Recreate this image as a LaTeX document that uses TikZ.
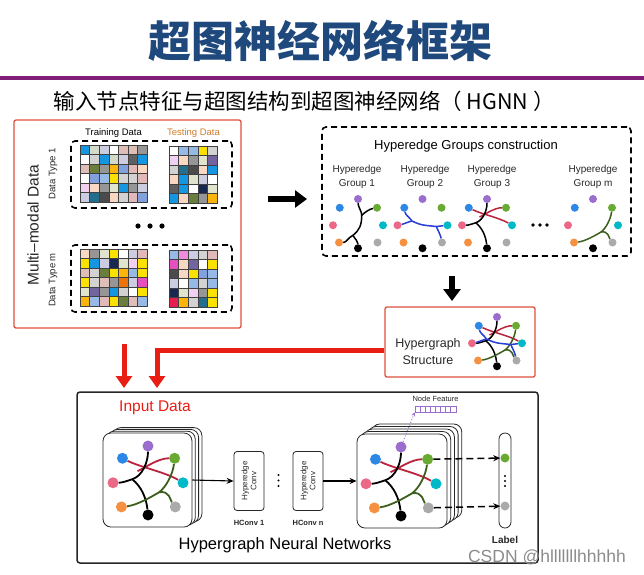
\documentclass[tikz,border=0pt]{standalone}
\usepackage{fontspec}
\setmainfont{Liberation Sans}
\newfontfamily\cjk{Noto Sans CJK SC}
\usepackage{xcolor}
\usetikzlibrary{arrows.meta, positioning}
\definecolor{titleBlue}{RGB}{31,73,125}
\definecolor{headPurple}{RGB}{128,30,120}
\definecolor{frameRed}{RGB}{222,80,60}
\definecolor{arrowRed}{RGB}{232,30,20}
\definecolor{testOrange}{RGB}{205,125,45}
\definecolor{textGray}{RGB}{40,40,40}
% vertex colours
\definecolor{vPur}{RGB}{155,110,205}
\definecolor{vBlu}{RGB}{45,135,230}
\definecolor{vGrn}{RGB}{105,170,50}
\definecolor{vPnk}{RGB}{235,105,135}
\definecolor{vCyn}{RGB}{0,185,200}
\definecolor{vOrg}{RGB}{245,145,65}
\definecolor{vGry}{RGB}{170,170,170}
% hyperedge colours
\definecolor{eRed}{RGB}{185,35,60}
\definecolor{eBlu}{RGB}{40,60,215}
\definecolor{eGrn}{RGB}{60,95,30}
% data cell colours
\definecolor{gBlu}{RGB}{20,150,225}
\definecolor{gSag}{RGB}{212,218,200}
\definecolor{gLav}{RGB}{205,205,225}
\definecolor{gWht}{RGB}{255,255,255}
\definecolor{gRos}{RGB}{222,190,182}
\definecolor{gGry}{RGB}{150,150,150}
\definecolor{gDgy}{RGB}{95,95,95}
\definecolor{gOlv}{RGB}{105,125,60}
\definecolor{gAmb}{RGB}{250,180,10}
\definecolor{gCrn}{RGB}{130,160,220}
\definecolor{gPnk}{RGB}{225,185,185}
\definecolor{gLbl}{RGB}{150,185,230}
\definecolor{gYel}{RGB}{250,225,0}
\definecolor{gLgy}{RGB}{210,210,210}
\definecolor{gOrc}{RGB}{240,210,240}
\definecolor{gPch}{RGB}{248,215,195}
\definecolor{gPal}{RGB}{225,228,205}
\definecolor{gTea}{RGB}{35,110,140}
\definecolor{gChr}{RGB}{75,75,75}
\definecolor{gNav}{RGB}{25,40,80}
\definecolor{gPur}{RGB}{115,100,160}
\definecolor{gOrg}{RGB}{235,115,10}
\definecolor{gMag}{RGB}{230,80,190}
\definecolor{gCrm}{RGB}{230,30,80}
\definecolor{gMpk}{RGB}{240,140,220}

% a block of coloured data cells, top left at (#1,#2)
\newcommand{\cellgrid}[3]{%
  \foreach \row [count=\j from 0] in {#3} {
    \foreach \c [count=\i from 0] in \row {
      \draw[cell, fill=\c] ({#1+\i*9.6},{#2+\j*9.5}) rectangle +(9.6,9.5);
    }
  }}

% the eight vertices of a hypergraph (unit circle, y down)
\newcommand{\hgverts}[2]{%
  \node[vtx=#2, fill=vPur] (#1-pu) at (0,-1) {};
  \node[vtx=#2, fill=vBlu] (#1-bl) at (-0.73,-0.65) {};
  \node[vtx=#2, fill=vGrn] (#1-gr) at (0.76,-0.65) {};
  \node[vtx=#2, fill=vPnk] (#1-pk) at (-1,0.05) {};
  \node[vtx=#2, fill=vCyn] (#1-cy) at (1,0.05) {};
  \node[vtx=#2, fill=vOrg] (#1-or) at (-0.76,0.74) {};
  \node[vtx=#2, fill=black] (#1-bk) at (0,0.97) {};
  \node[vtx=#2, fill=vGry] (#1-gy) at (0.78,0.74) {};}
\newcommand{\hgred}[1]{%
  \coordinate (#1-jr) at (-0.3,-0.28);
  \draw[hedge, eRed] (#1-bl) .. controls +(0.5,0.25) and +(-0.5,-0.3) .. (#1-cy);
  \draw[hedge, eRed] (#1-gr) .. controls +(-0.45,0) and +(0.3,-0.15) .. (#1-jr);}
\newcommand{\hgblack}[1]{%
  \coordinate (#1-jk) at (-0.45,-0.05);
  \draw[hedge, black] (#1-pk) .. controls +(0.25,0) and +(-0.15,0.05) .. (#1-jk)
    .. controls +(0.3,-0.1) and +(0,0.45) .. (#1-pu);
  \draw[hedge, black] (#1-jk) .. controls +(0.25,0.2) and +(-0.05,-0.5) .. (#1-bk);}
\newcommand{\hggreen}[1]{%
  \coordinate (#1-jg) at (0.32,0.32);
  \draw[hedge, eGrn] (#1-or) .. controls +(0.45,-0.05) and +(-0.2,0.12) .. (#1-jg)
    .. controls +(0.2,-0.15) and +(-0.05,0.45) .. (#1-gr);
  \draw[hedge, eGrn] (#1-jg) .. controls +(0.3,-0.05) and +(-0.15,-0.2) .. (#1-gy);}
\newcommand{\hgone}[1]{%
  \coordinate (#1-ka) at (0.15,-0.35);
  \coordinate (#1-kb) at (-0.2,0.45);
  \draw[hedge, black] (#1-gr) .. controls +(-0.3,0.05) and +(0.1,-0.1) .. (#1-ka);
  \draw[hedge, black] (#1-pu) .. controls +(0,0.3) and +(0,-0.15) .. (#1-ka)
    .. controls +(0,0.4) and +(0.25,-0.2) .. (#1-kb)
    .. controls +(-0.2,0.1) and +(0.3,0) .. (#1-or);
  \draw[hedge, black] (#1-kb) .. controls +(0.1,0.2) and +(0,-0.3) .. (#1-bk);}
\newcommand{\hgtwo}[1]{%
  \coordinate (#1-ma) at (-0.42,-0.12);
  \coordinate (#1-mb) at (0.55,0.1);
  \draw[hedge, eBlu] (#1-bl) .. controls +(0.05,0.3) and +(-0.1,-0.15) .. (#1-ma)
    .. controls +(0.4,0.2) and +(-0.4,-0.05) .. (#1-mb) -- (#1-cy);
  \draw[hedge, eBlu] (#1-ma) .. controls +(-0.2,0.05) and +(0.25,-0.05) .. (#1-pk);
  \draw[hedge, eBlu] (#1-mb) .. controls +(0.1,0.2) and +(-0.05,-0.25) .. (#1-gy);}

\begin{document}
\begin{tikzpicture}[x=1pt, y=-1pt,
    font=\fontsize{10}{12}\selectfont, text=textGray,
    cell/.style={draw=black!75, line width=0.6pt},
    vtx/.style={circle, inner sep=0pt, minimum size=#1},
    hedge/.style={line width=1.5pt},
    redframe/.style={draw=frameRed, line width=1.3pt, rounded corners=2pt, inner sep=0pt},
    dashframe/.style={draw=black, line width=1.6pt, dash pattern=on 6pt off 4pt, rounded corners=4pt, inner sep=0pt},
    card/.style={draw=black!85, fill=white, line width=0.8pt, rounded corners=8pt, inner sep=0pt},
    convbox/.style={draw=black!85, line width=0.8pt, rounded corners=3pt, minimum width=59, minimum height=30, align=center, inner sep=0pt, font=\fontsize{8}{9}\selectfont},
    fatblack/.style={-{Triangle[length=12pt,width=17pt]}, line width=6.5pt, black},
    fatred/.style={-{Triangle[length=12pt,width=16pt]}, line width=5pt, arrowRed},
    flow/.style={-{Stealth[length=7pt,width=6pt]}, line width=1.1pt, black},
    dasharrow/.style={-{Stealth[length=7pt,width=6pt]}, line width=1.5pt, black, dash pattern=on 7pt off 4pt}
  ]
    \useasboundingbox[fill=white] (0,0) rectangle (644,574);

    % header
    \node[font=\cjk\bfseries\fontsize{43}{48}\selectfont, text=titleBlue] (title) at (320,41) {超图神经网络框架};
    \draw[headPurple, line width=4.5pt] (0,78) -- (644,78);
    \node[anchor=west, font=\cjk\fontsize{21.5}{24}\selectfont, text=black] (subtitle) at (50,101) {输入节点特征与超图结构到超图神经网络（ HGNN ）};

    % multi-modal data panel
    \node[redframe, minimum width=227, minimum height=208] (mmbox) at (127.5,224) {};
    \node[rotate=90, font=\fontsize{15.5}{18}\selectfont] (mmlabel) at (33,225) {Multi--modal Data};
    \node[font=\fontsize{9.5}{11}\selectfont, text=black] (train) at (113.5,133) {Training Data};
    \node[font=\fontsize{9.5}{11}\selectfont, text=testOrange] (test) at (193.5,133) {Testing Data};
    \node[dashframe, minimum width=161, minimum height=67] (type1) at (151.5,174.5) {};
    \node[dashframe, minimum width=161, minimum height=67] (typem) at (151.5,278.5) {};
    \node[rotate=90, font=\fontsize{9.5}{11}\selectfont] (dt1) at (53,174) {Data Type 1};
    \node[rotate=90, font=\fontsize{9.5}{11}\selectfont] (dtm) at (53,280) {Data Type m};
    \cellgrid{80}{145}{{gBlu,gSag,gLav,gWht,gRos,gRos,gGry},{gWht,gLgy,gBlu,gSag,gLav,gDgy,gBlu},{gRos,gOlv,gGry,gAmb,gCrn,gPnk,gPch},{gWht,gCrn,gLbl,gYel,gLgy,gLgy,gPnk},{gOrc,gPch,gGry,gPal,gBlu,gGry,gLav},{gLav,gTea,gChr,gPch,gLgy,gPnk,gCrn}}
    \cellgrid{169}{146}{{gWht,gLbl,gLbl,gYel,gLgy},{gOrc,gPch,gGry,gPal,gPur},{gLgy,gTea,gChr,gPch,gBlu},{gPch,gBlu,gPal,gLav,gWht},{gDgy,gBlu,gWht,gNav,gPal},{gBlu,gPch,gOlv,gGry,gAmb}}
    \cellgrid{80}{249}{{gPch,gGry,gPal,gYel,gWht,gLav,gPnk},{gYel,gBlu,gLav,gNav,gPal,gOrc,gYel},{gRos,gLgy,gOlv,gYel,gAmb,gLbl,gYel},{gYel,gLgy,gRos,gGry,gOrg,gLav,gMag},{gPal,gPur,gGry,gBlu,gLgy,gWht,gYel},{gAmb,gLbl,gPnk,gYel,gOlv,gRos,gLbl}}
    \cellgrid{169}{250}{{gLbl,gMpk,gLav,gLgy,gPnk},{gMag,gPch,gPur,gWht,gYel},{gChr,gPch,gYel,gCrn,gLbl},{gLav,gWht,gLbl,gLgy,gLbl},{gNav,gPal,gOrc,gGry,gYel},{gCrm,gAmb,gLgy,gTea,gYel}}
    \foreach \x in {138,150,162} \fill (\x,226) circle (2.6);

    % hyperedge groups
    \node[dashframe, minimum width=309, minimum height=129] (groups) at (476.5,191.5) {};
    \node[font=\fontsize{13}{15}\selectfont, text=black] (grtitle) at (466,146) {Hyperedge Groups construction};
    \foreach \x/\g [count=\n] in {357/1, 425/2, 492/3, 593/m}
      \node[align=center, font=\fontsize{10}{14.5}\selectfont] (glabel\n) at (\x,177) {Hyperedge\\Group \g};
    \begin{scope}[shift={(358,224)}, scale=25]
      \hgverts{ga}{8pt} \hgone{ga}
    \end{scope}
    \begin{scope}[shift={(422.5,224)}, scale=25]
      \hgverts{gb}{8pt} \hgtwo{gb}
    \end{scope}
    \begin{scope}[shift={(487,224)}, scale=25]
      \hgverts{gc}{8pt} \hgred{gc} \hgblack{gc}
    \end{scope}
    \begin{scope}[shift={(593,224)}, scale=25]
      \hgverts{gm}{8pt} \hggreen{gm}
    \end{scope}
    \foreach \x in {533,540,547} \fill (\x,225) circle (1.8);

    % hypergraph structure
    \node[redframe, minimum width=150, minimum height=70] (structbox) at (460,342) {};
    \node[align=center, font=\fontsize{12.5}{17}\selectfont] (structlabel) at (428,352) {Hypergraph\\Structure};
    \begin{scope}[shift={(497,342)}, scale=25]
      \hgverts{hs}{8pt} \hgred{hs} \hgblack{hs} \hggreen{hs} \hgtwo{hs}
    \end{scope}

    % block arrows
    \coordinate (bkA) at (268,199);
    \coordinate (bkB) at (307,199);
    \coordinate (bkC) at (452,276);
    \coordinate (bkD) at (452,301);
    \draw[fatblack] (bkA) -- (bkB);
    \draw[fatblack] (bkC) -- (bkD);
    \coordinate (rdA) at (124,344);
    \coordinate (rdB) at (124,388);
    \coordinate (rdC) at (157,388);
    \draw[fatred] (rdA) -- (rdB);
    \draw[fatred] ([yshift=-8pt]structbox.west) -| (rdC);

    % HGNN
    \node[draw=black!85, line width=1.5pt, rounded corners=3pt, minimum width=461, minimum height=171] (hgnn) at (307.5,477.5) {};
    \node[font=\fontsize{15.5}{18}\selectfont, text=arrowRed] (inlabel) at (155,408) {Input Data};
    \foreach \k in {3,2,1}
      \node[card, minimum width=89, minimum height=94] (inback\k) at ({147.5+\k*3.3},{480-\k*1.8}) {};
    \node[card, minimum width=89, minimum height=94] (incard) at (147.5,480) {};
    \begin{scope}[shift={(148,481)}, scale=35, hedge/.style={line width=1.8pt}]
      \hgverts{ip}{11pt} \hgred{ip} \hgblack{ip} \hggreen{ip}
    \end{scope}
    \node[convbox, rotate=90] (conv1) at (249,481) {Hyperedge\\Conv};
    \node[convbox, rotate=90] (conv2) at (308,481) {Hyperedge\\Conv};
    \node[font=\bfseries\fontsize{7.5}{9}\selectfont] (hc1) at (249,523) {HConv 1};
    \node[font=\bfseries\fontsize{7.5}{9}\selectfont] (hcn) at (308,523) {HConv n};
    \foreach \y in {475,480.5,486} \fill (278.5,\y) circle (1.1);
    \foreach \k in {4,3,2,1}
      \node[card, minimum width=90, minimum height=94] (outback\k) at ({402+\k*3.7},{481-\k*2.5}) {};
    \node[card, minimum width=90, minimum height=94] (outcard) at (402,481) {};
    \begin{scope}[shift={(401,482)}, scale=35, hedge/.style={line width=1.8pt}]
      \hgverts{op}{11pt} \hgred{op} \hgblack{op} \hggreen{op}
    \end{scope}
    \draw[flow] (incard.east) -- (conv1.north);
    \draw[flow] (conv2.south) -- (outcard.west);
    \node[font=\fontsize{16.5}{18}\selectfont, text=black] (hgnnlabel) at (285,545) {Hypergraph Neural Networks};

    % node feature
    \node[draw=vPur, line width=0.6pt, minimum width=41, minimum height=6, inner sep=0pt] (fvec) at (435.5,409) {};
    \foreach \k in {1,...,7} \draw[vPur, line width=0.5pt] ({415+\k*5.1},406) -- ++(0,6);
    \node[font=\fontsize{7.5}{9}\selectfont] (fvlabel) at (435.5,399) {Node Feature};
    \draw[vPur, line width=0.9pt, dotted, -{Stealth[length=4pt,width=4pt]}] (op-pu) -- (fvec.south west);

    % label column
    \node[draw=black!85, line width=0.8pt, rounded corners=6pt, minimum width=12, minimum height=95, inner sep=0pt] (labelbar) at (505,480.5) {};
    \node[vtx=9pt, fill=vGrn] (lb-gr) at (505,458) {};
    \node[vtx=9pt, fill=vGry] (lb-gy) at (505,506) {};
    \foreach \y in {476,481,486} \fill (505,\y) circle (1.2);
    \draw[dasharrow] (op-gr) -- (lb-gr);
    \draw[dasharrow] (op-gy) -- (lb-gy);
    \node[font=\bfseries\fontsize{10}{12}\selectfont] (labeltext) at (505,540) {Label};

    \node[font=\fontsize{17.5}{20}\selectfont, text=black!45] (wmark) at (547,557) {CSDN @hlllllllhhhhh};
  \end{tikzpicture}
\end{document}
